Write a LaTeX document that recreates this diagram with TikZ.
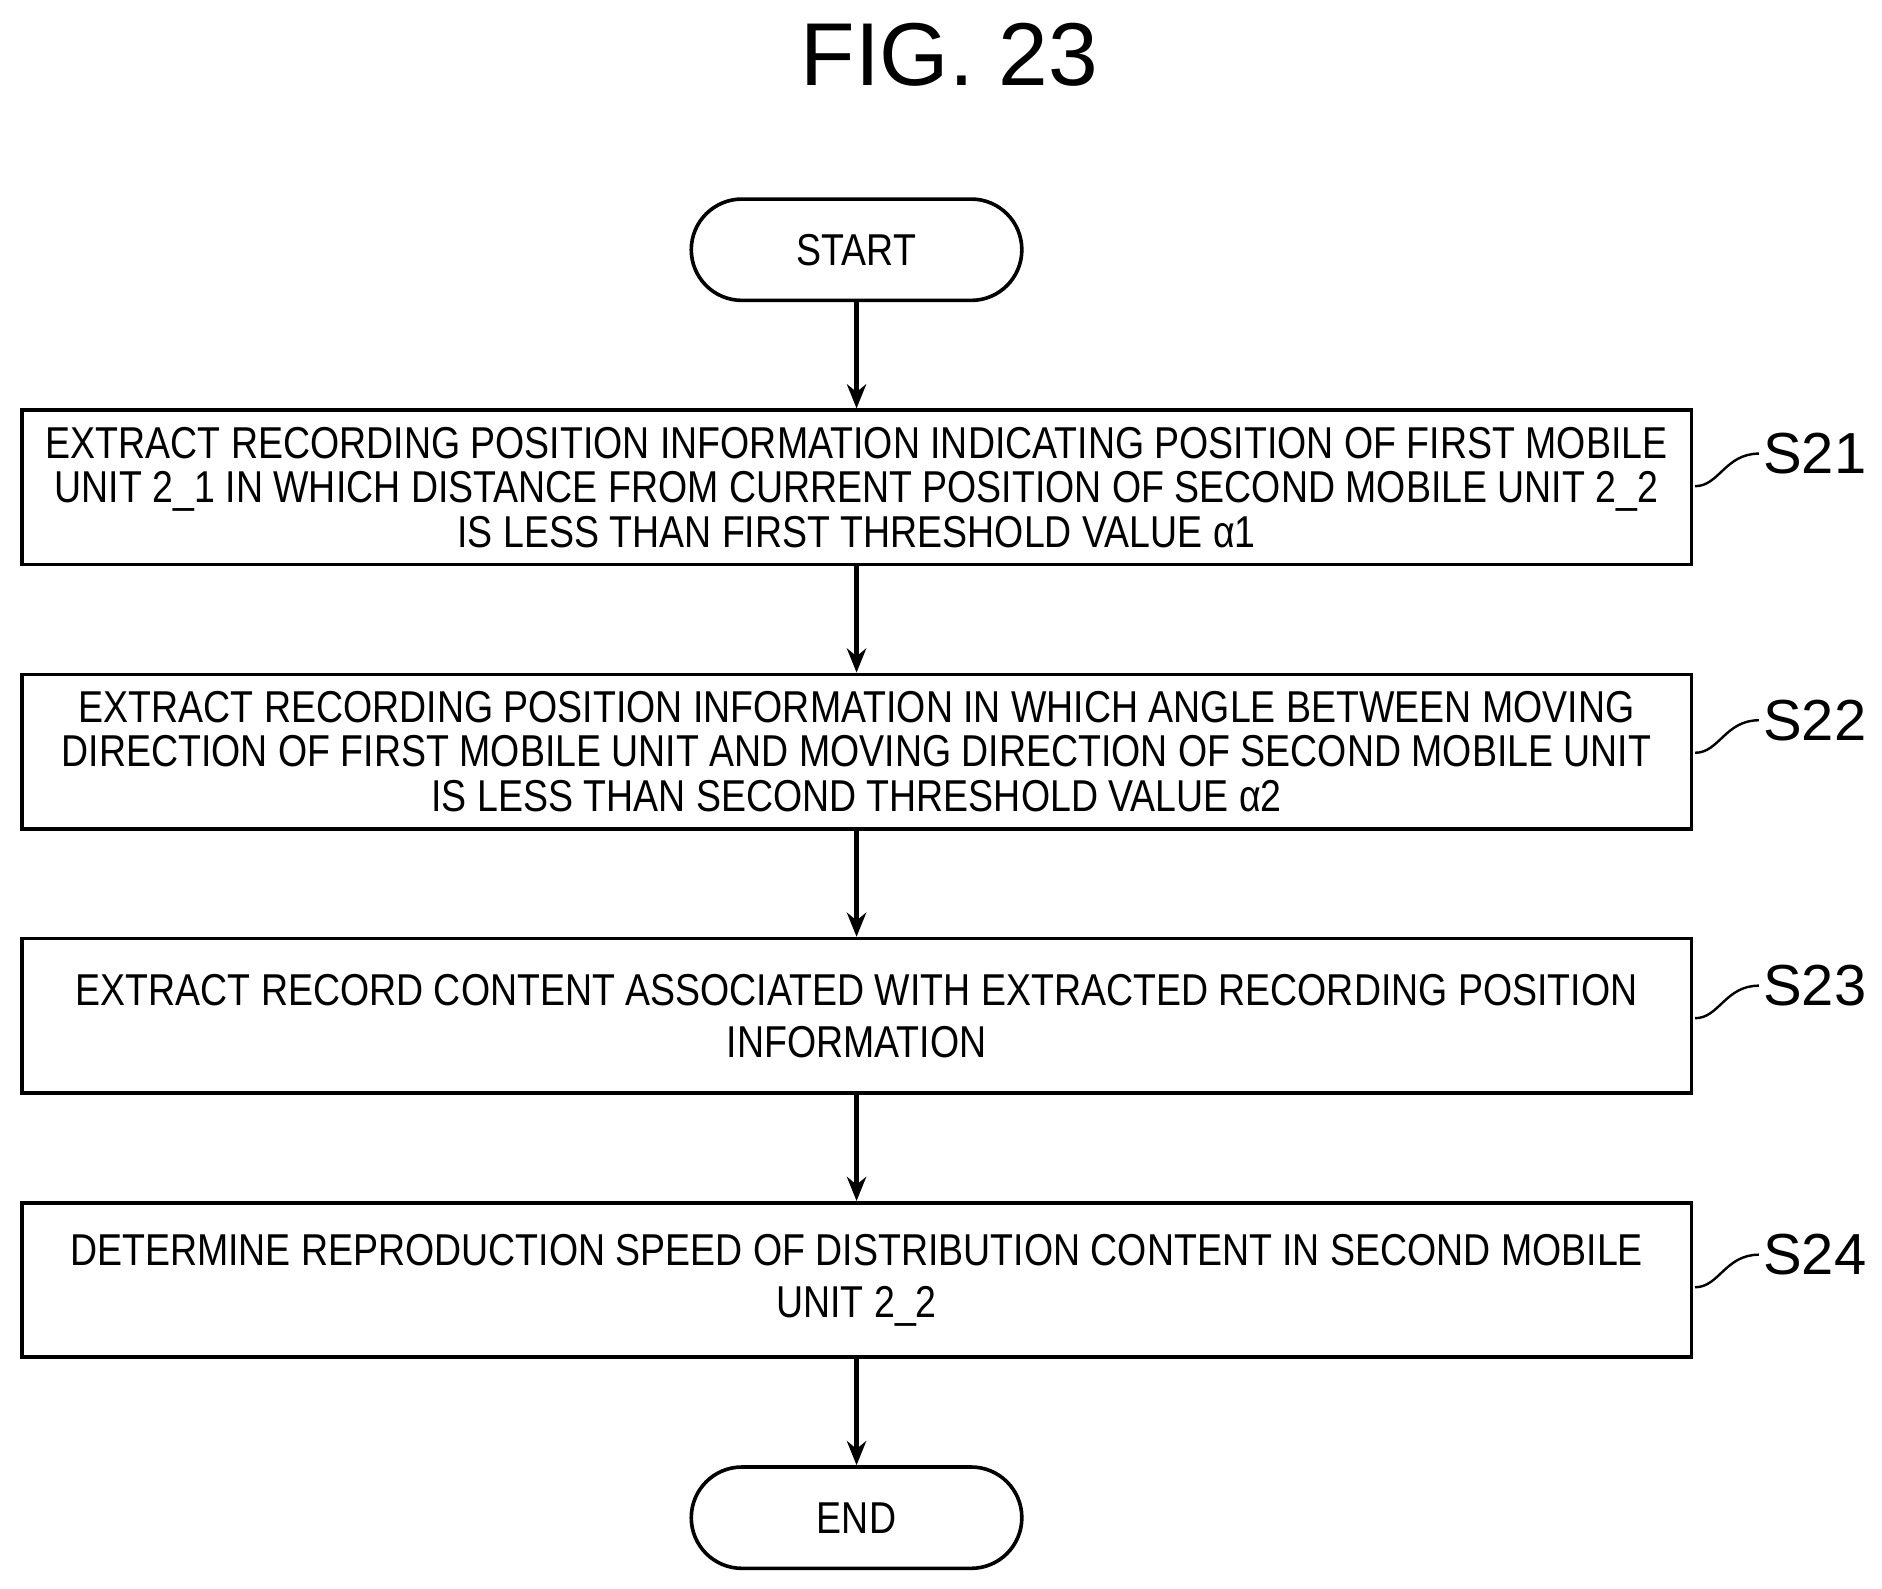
\documentclass[tikz,border=0pt]{standalone}
\usetikzlibrary{arrows.meta}
\usepackage{fontspec}
\setmainfont{Liberation Sans}
\newfontfamily\nar[FakeStretch=0.84]{Liberation Sans}
\begin{document}
\begin{tikzpicture}[x=1pt,y=-1pt,
  box/.style={draw,line width=3pt,minimum width=1384pt,minimum height=128pt,align=center,font=\nar\fontsize{37}{37}\selectfont,inner sep=0pt},
  term/.style={draw,line width=3pt,rounded corners=42pt,minimum width=274pt,minimum height=84pt,font=\nar\fontsize{37}{37}\selectfont},
  arr/.style={line width=3.5pt,-{Stealth[length=20pt,width=16pt]}},
  lab/.style={font=\fontsize{48}{48}\selectfont,anchor=west},
  tick/.style={line width=2pt}]
\useasboundingbox (0,0) rectangle (1560,1317);
\node[font=\fontsize{74}{74}\selectfont] (t) at (787,45) {FIG. 23};
\node[term] (s) at (710,207) {START};
\node[box] (b1) at (710,404) {EXTRACT RECORDING POSITION INFORMATION INDICATING POSITION OF FIRST MOBILE\\UNIT 2\_1 IN WHICH DISTANCE FROM CURRENT POSITION OF SECOND MOBILE UNIT 2\_2\\IS LESS THAN FIRST THRESHOLD VALUE α1};
\node[box] (b2) at (710,623) {EXTRACT RECORDING POSITION INFORMATION IN WHICH ANGLE BETWEEN MOVING\\DIRECTION OF FIRST MOBILE UNIT AND MOVING DIRECTION OF SECOND MOBILE UNIT\\IS LESS THAN SECOND THRESHOLD VALUE α2};
\node[box] (b3) at (710,842) {EXTRACT RECORD CONTENT ASSOCIATED WITH EXTRACTED RECORDING POSITION\\[6pt]INFORMATION};
\node[box] (b4) at (710,1061) {DETERMINE REPRODUCTION SPEED OF DISTRIBUTION CONTENT IN SECOND MOBILE\\[6pt]UNIT 2\_2};
\node[term] (e) at (710,1258) {END};
\draw[arr] (s) -- (b1); \draw[arr] (b1) -- (b2); \draw[arr] (b2) -- (b3); \draw[arr] (b3) -- (b4); \draw[arr] (b4) -- (e);
\foreach \n/\y/\t in {1/376/S21,2/597/S22,3/817/S23,4/1040/S24}{
  \node[lab] (l\n) at (1458,\y) {\t};
  \coordinate (c\n) at (1405,\y+27);
  \draw[tick] (c\n) .. controls (1425,\y+27) and (1430,\y) .. (l\n.west);
}
\end{tikzpicture}
\end{document}
